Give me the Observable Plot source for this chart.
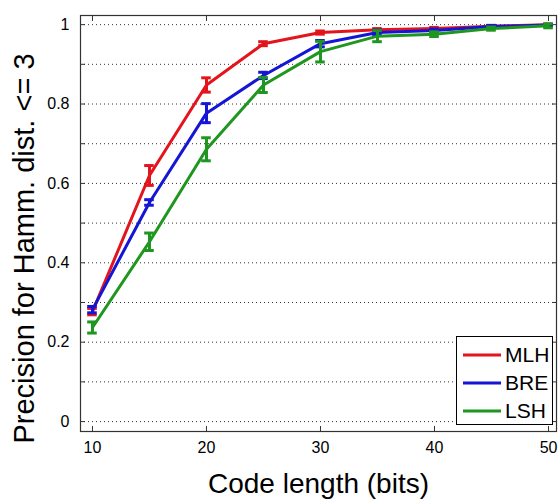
<!DOCTYPE html>
<html>
<head>
<meta charset="utf-8">
<script src="https://cdn.jsdelivr.net/npm/d3@7"></script>
<script src="https://cdn.jsdelivr.net/npm/@observablehq/plot@0.6"></script>
<style>
  html, body { margin: 0; padding: 0; background: #fff; }
  #wrap { position: relative; width: 558px; height: 500px; font-family: "Liberation Sans", Arial, sans-serif; }
  #legend { position: absolute; left: 456px; top: 336px; width: 95px; height: 87px; border: 1px solid #000; background: #fff; box-sizing: content-box; }
  #legend .row { display: flex; align-items: center; height: 27px; margin-top: 1px; }
  #legend .row:first-child { margin-top: 4px; }
  #legend svg { margin-left: 6px; margin-right: 4px; }
  #legend span { font-size: 21px; color: #000; }
</style>
</head>
<body>
<div id="wrap"></div>
<script>
const codeLength = [10, 15, 20, 25, 30, 35, 40, 45, 50];
const seriesNames = ["MLH", "BRE", "LSH"];
const seriesColors = ["#e3141b", "#1515d6", "#1f961f"];
const mlh = [0.277, 0.620, 0.848, 0.952, 0.980, 0.987, 0.990, 0.996, 1.000];
const mlhErr = [0.008, 0.025, 0.018, 0.005, 0.004, 0.003, 0.003, 0.002, 0.001];
const bre = [0.282, 0.552, 0.777, 0.872, 0.952, 0.980, 0.985, 0.995, 0.999];
const breErr = [0.008, 0.007, 0.024, 0.008, 0.008, 0.006, 0.004, 0.003, 0.002];
const lsh = [0.237, 0.453, 0.686, 0.848, 0.932, 0.971, 0.976, 0.990, 0.997];
const lshErr = [0.014, 0.022, 0.029, 0.019, 0.026, 0.014, 0.006, 0.004, 0.005];
const xTicks = [10, 20, 30, 40, 50];
const yTickLabels = [0, 0.2, 0.4, 0.6, 0.8, 1];
const yMinorTicks = [0, 0.1, 0.2, 0.3, 0.4, 0.5, 0.6, 0.7, 0.8, 0.9, 1];
const xTitle = "Code length (bits)";
const yTitle = "Precision for Hamm. dist. <= 3";

const values = [mlh, bre, lsh];
const errs = [mlhErr, breErr, lshErr];
const rows = [];
seriesNames.forEach((s, i) => {
  codeLength.forEach((x, j) => {
    rows.push({series: s, x, y: values[i][j], e: errs[i][j]});
  });
});

const capHalf = 0.42;
const font = "Liberation Sans, Arial, sans-serif";

const plot = Plot.plot({
  width: 558,
  height: 500,
  marginLeft: 80,
  marginRight: 2,
  marginTop: 15,
  marginBottom: 69,
  style: {fontFamily: font, background: "#fff", color: "#000"},
  x: {domain: [8.95, 50.7]},
  y: {domain: [-0.025, 1.023]},
  color: {domain: seriesNames, range: seriesColors},
  marks: [
    Plot.gridY(yMinorTicks, {stroke: "#333", strokeOpacity: 1, strokeDasharray: "1,3", strokeWidth: 1}),
    // tick labels
    Plot.axisX(xTicks, {anchor: "bottom", tickSize: 0, tickPadding: 10, fontSize: 16, label: null}),
    Plot.axisY(yTickLabels, {anchor: "left", tickSize: 0, tickPadding: 11, fontSize: 16, label: null, tickFormat: d => String(d)}),
    // inward ticks on all four sides
    Plot.axisX(xTicks, {anchor: "bottom", tickSize: -5, fill: "none", label: null, stroke: "#333"}),
    Plot.axisX(xTicks, {anchor: "top", tickSize: -5, fill: "none", label: null, stroke: "#333"}),
    Plot.axisY(yMinorTicks, {anchor: "left", tickSize: -5, fill: "none", label: null, stroke: "#333"}),
    Plot.axisY(yMinorTicks, {anchor: "right", tickSize: -5, fill: "none", label: null, stroke: "#333"}),
    // axis titles
    Plot.axisX([], {anchor: "bottom", label: xTitle, labelAnchor: "center", labelArrow: "none", labelOffset: 61, fontSize: 28, tickSize: 0}),
    Plot.text([yTitle], {frameAnchor: "left", text: d => d, rotate: -90, textAnchor: "middle", lineAnchor: "top", dx: -67, dy: 25, fontSize: 29, fill: "#000", ariaLabel: "y-title"}),
    Plot.frame({stroke: "#333", strokeWidth: 1.2}),
    // series
    ...seriesNames.map((s, i) => [
      Plot.lineY(rows.filter(d => d.series === s), {x: "x", y: "y", stroke: seriesColors[i], strokeWidth: 3}),
      Plot.ruleX(rows.filter(d => d.series === s), {x: "x", y1: d => d.y - d.e, y2: d => d.y + d.e, stroke: seriesColors[i], strokeWidth: 3}),
      Plot.ruleY(rows.filter(d => d.series === s), {y: d => d.y + d.e, x1: d => d.x - capHalf, x2: d => d.x + capHalf, stroke: seriesColors[i], strokeWidth: 3}),
      Plot.ruleY(rows.filter(d => d.series === s), {y: d => d.y - d.e, x1: d => d.x - capHalf, x2: d => d.x + capHalf, stroke: seriesColors[i], strokeWidth: 3})
    ]).flat()
  ]
});

d3.select(plot).selectAll('g[aria-label="y-title"] text').style("letter-spacing", "2px");

const wrap = document.getElementById("wrap");
wrap.appendChild(plot);

const legend = document.createElement("div");
legend.id = "legend";
seriesNames.forEach((s, i) => {
  const row = document.createElement("div");
  row.className = "row";
  row.innerHTML = `<svg width="38" height="6"><line x1="0" y1="3" x2="38" y2="3" stroke="${seriesColors[i]}" stroke-width="3"/></svg><span>${s}</span>`;
  legend.appendChild(row);
});
wrap.appendChild(legend);
</script>
</body>
</html>
